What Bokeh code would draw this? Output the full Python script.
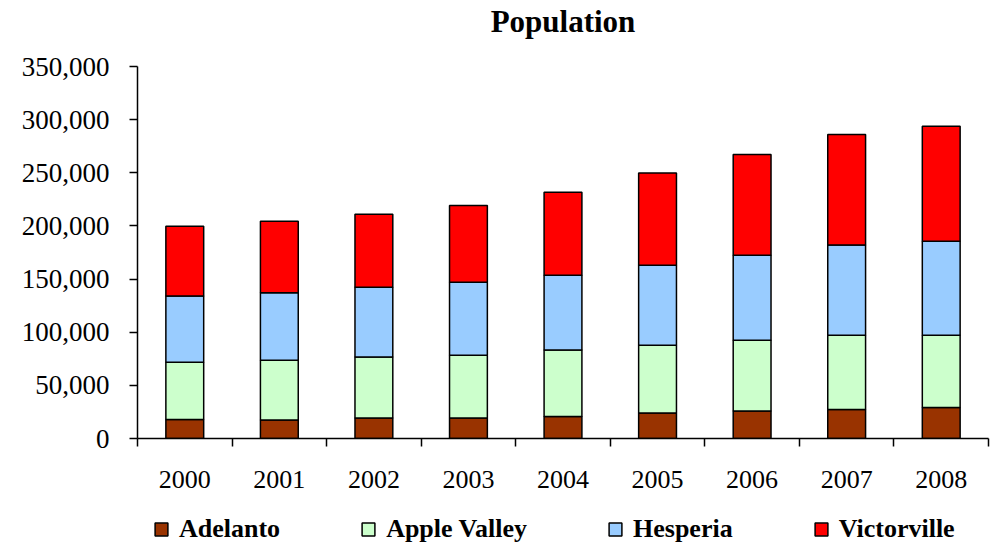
from bokeh.plotting import figure
from bokeh.layouts import column
from bokeh.models import (Range1d, FixedTicker, NumeralTickFormatter, Legend, LegendItem, ColumnDataSource)
from bokeh.core.properties import value
from bokeh.embed import file_html
from bokeh.resources import INLINE

years = ["2000", "2001", "2002", "2003", "2004", "2005", "2006", "2007", "2008"]
adelanto = [17900, 17500, 19400, 19400, 20700, 24100, 25900, 27300, 29100]
apple_valley = [53800, 56100, 57300, 58900, 62600, 63600, 66500, 69800, 68000]
hesperia = [62300, 63600, 65500, 68600, 70200, 75200, 79900, 84900, 88400]
victorville = [65800, 67300, 68900, 72400, 78300, 86800, 94900, 104000, 108300]

title_text = "Population"
series = ["Adelanto", "Apple Valley", "Hesperia", "Victorville"]
colors = ["#993300", "#CCFFCC", "#99CCFF", "#FF0000"]
y_ticks = [0, 50000, 100000, 150000, 200000, 250000, 300000, 350000]

FONT = "Liberation Serif"
W = 993

# ---- title strip ----
tt = figure(width=W, height=52, output_backend="svg", toolbar_location=None, title=None,
            x_range=Range1d(0, 1), y_range=Range1d(0, 52),
            x_axis_location=None, y_axis_location=None,
            min_border_left=0, min_border_right=0, min_border_top=0, min_border_bottom=0)
tt.grid.visible = False
tt.outline_line_color = None
tt.text(x=[0.5], y=[31.5], text=[title_text], text_font=value(FONT), text_font_size="31px",
        text_font_style="bold", text_color="black", text_align="center",
        text_baseline="alphabetic")

# ---- main chart ----
xpos = [i + 0.5 for i in range(len(years))]
source = ColumnDataSource(dict(x=xpos, Adelanto=adelanto, **{"Apple Valley": apple_valley},
                               Hesperia=hesperia, Victorville=victorville))

p = figure(width=W, height=448, output_backend="svg", toolbar_location=None, title=None,
           x_range=Range1d(0, len(years)), y_range=Range1d(0, 350000),
           min_border_left=137, min_border_right=5, min_border_top=14, min_border_bottom=62)

renderers = p.vbar_stack(series, x="x", width=0.4, source=source, color=colors,
                         line_color="black", line_width=1.5)

p.grid.visible = False
p.outline_line_color = None

xa = p.xaxis[0]
xa.ticker = FixedTicker(ticks=xpos, minor_ticks=list(range(len(years) + 1)))
xa.major_label_overrides = {x: y for x, y in zip(xpos, years)}
xa.major_tick_out = 0
xa.major_tick_in = 0
xa.minor_tick_out = 8
xa.minor_tick_in = 0
xa.minor_tick_line_color = "black"
xa.minor_tick_line_width = 1.5
xa.axis_line_color = "black"
xa.axis_line_width = 1.5
xa.major_label_text_font = FONT
xa.major_label_text_font_size = "26px"
xa.major_label_text_color = "black"
xa.major_label_standoff = 24

ya = p.yaxis[0]
ya.ticker = FixedTicker(ticks=y_ticks)
ya.formatter = NumeralTickFormatter(format="0,0")
ya.major_tick_out = 8
ya.major_tick_in = 0
ya.major_tick_line_color = "black"
ya.major_tick_line_width = 1.5
ya.minor_tick_line_color = None
ya.axis_line_color = "black"
ya.axis_line_width = 1.5
ya.major_label_text_font = FONT
ya.major_label_text_font_size = "27px"
ya.major_label_text_color = "black"
ya.major_label_standoff = 20

# ---- legend strip ----
lg = figure(width=W, height=44, output_backend="svg", toolbar_location=None, title=None,
            x_range=Range1d(0, 1), y_range=Range1d(0, 1),
            x_axis_location=None, y_axis_location=None,
            min_border_left=0, min_border_right=0, min_border_top=0, min_border_bottom=0)
lg.grid.visible = False
lg.outline_line_color = None
# hidden swatch renderers: only their legend glyphs are shown
swatch = ColumnDataSource(dict(x=[0.5], top=[0]))
swatches = []
for c in colors:
    r = lg.vbar(x="x", top="top", width=0, source=swatch, fill_color=c,
                line_color="black", line_width=1.5)
    r.visible = False
    swatches.append(r)

legend = Legend(items=[LegendItem(label=s, renderers=[r]) for s, r in zip(series, swatches)],
                orientation="horizontal", location=(16, 0),
                label_text_font=FONT, label_text_font_size="26px", label_text_font_style="bold",
                label_text_color="black",
                glyph_width=16, glyph_height=16, label_standoff=10, spacing=80,
                padding=0, margin=0, border_line_color=None, background_fill_alpha=0,
                inactive_fill_alpha=0)
lg.add_layout(legend, "center")

layout = column(tt, p, lg, spacing=0)
open("out.html", "w").write(file_html(layout, INLINE))
